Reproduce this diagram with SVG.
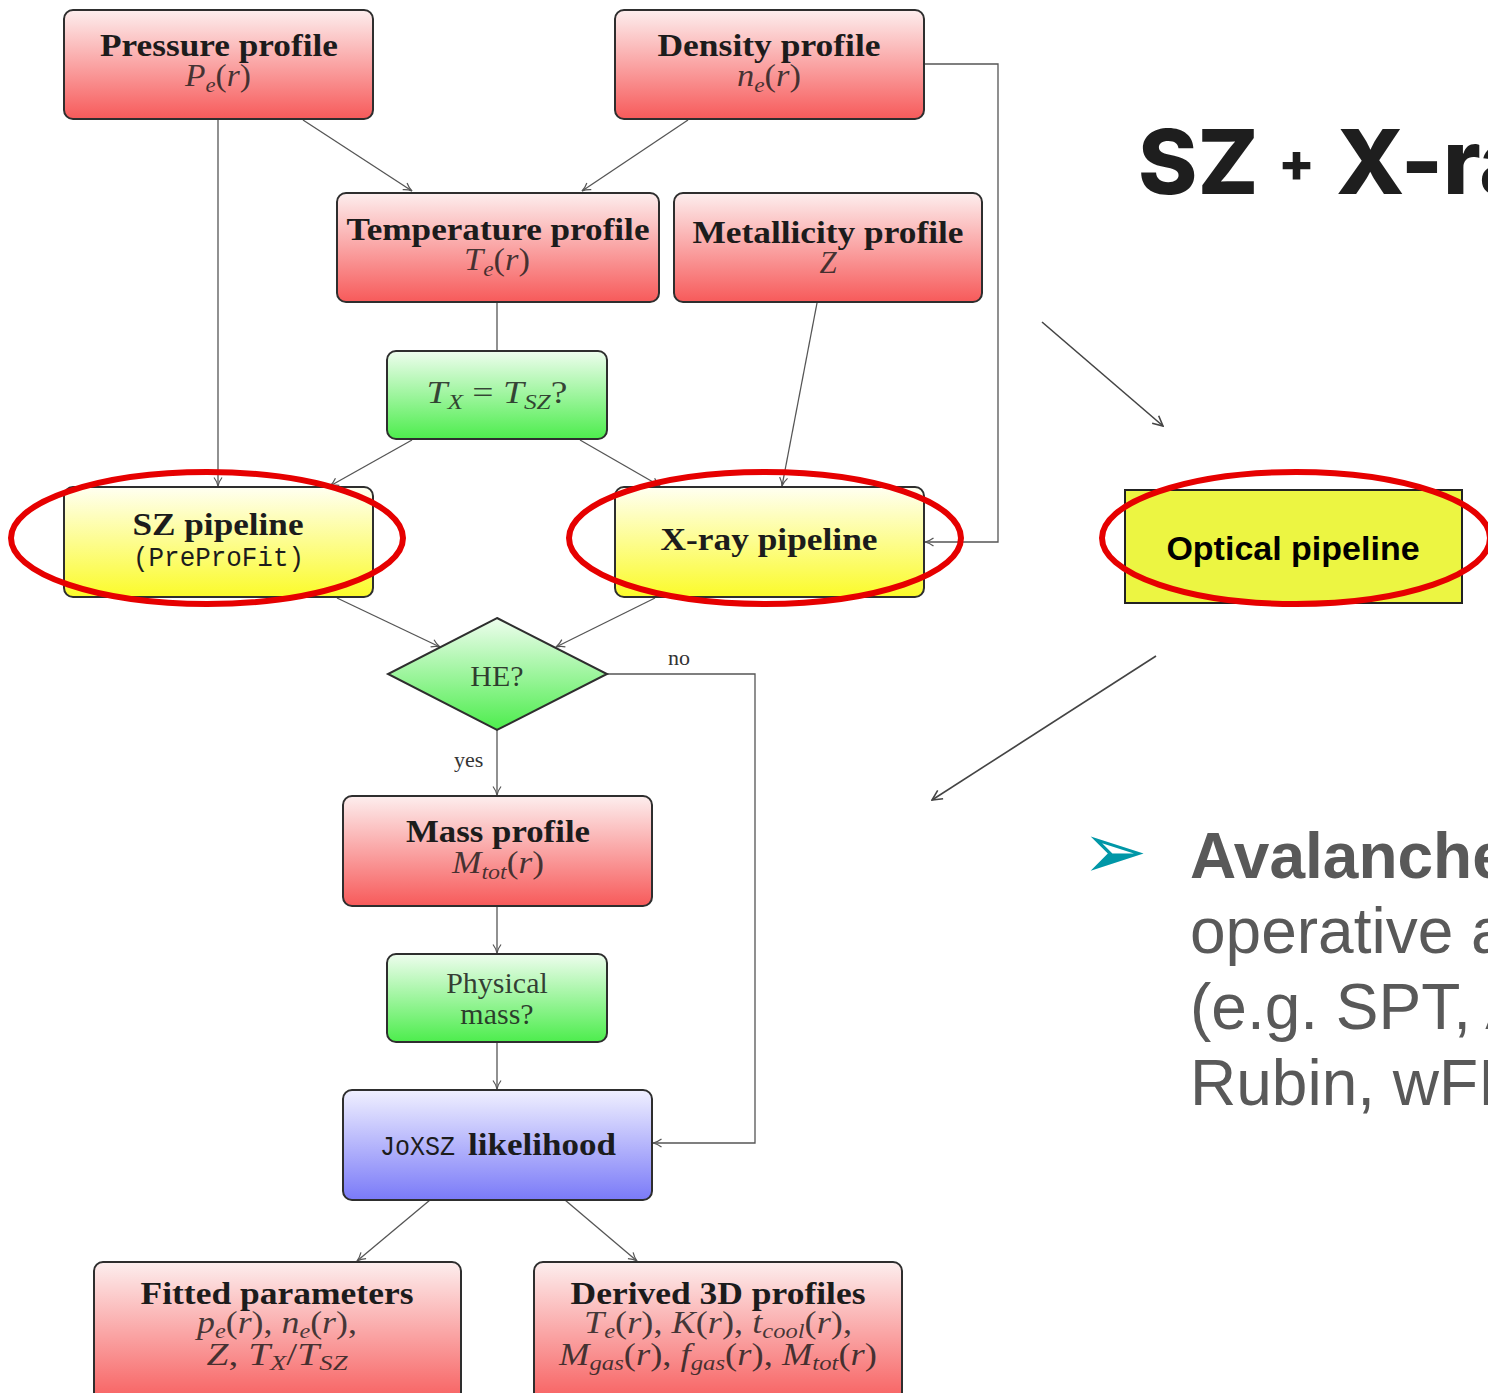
<svg xmlns="http://www.w3.org/2000/svg" width="1488" height="1393" viewBox="0 0 1488 1393">
  <defs>
    <linearGradient id="gRed" x1="0" y1="0" x2="0" y2="1">
      <stop offset="0" stop-color="#fdeeee"/>
      <stop offset="1" stop-color="#f75a5a"/>
    </linearGradient>
    <linearGradient id="gGreen" x1="0" y1="0" x2="0" y2="1">
      <stop offset="0" stop-color="#eefdee"/>
      <stop offset="1" stop-color="#4ded4d"/>
    </linearGradient>
    <linearGradient id="gYellow" x1="0" y1="0" x2="0" y2="1">
      <stop offset="0" stop-color="#fffff2"/>
      <stop offset="1" stop-color="#fbfb2a"/>
    </linearGradient>
    <linearGradient id="gBlue" x1="0" y1="0" x2="0" y2="1">
      <stop offset="0" stop-color="#f0f0ff"/>
      <stop offset="1" stop-color="#7a7af8"/>
    </linearGradient>
    <marker id="arr" viewBox="0 0 10 10" refX="9.5" refY="5" markerWidth="10" markerHeight="10" orient="auto" markerUnits="userSpaceOnUse">
      <path d="M1,1 Q5,4 9.5,5 Q5,6 1,9" fill="none" stroke="#555" stroke-width="1.2"/>
    </marker>
    <marker id="arrBig" viewBox="0 0 12 12" refX="11" refY="6" markerWidth="12" markerHeight="12" orient="auto" markerUnits="userSpaceOnUse">
      <path d="M1,1 L11,6 L1,11" fill="none" stroke="#444" stroke-width="1.6"/>
    </marker>
    <style>
      .box { stroke: #2e2e2e; stroke-width: 2; }
      .red { fill: url(#gRed); }
      .green { fill: url(#gGreen); }
      .yellow { fill: url(#gYellow); }
      .blue { fill: url(#gBlue); }
      .con { fill: none; stroke: #555; stroke-width: 1.3; }
      .big { fill: none; stroke: #444; stroke-width: 1.6; }
      .ring { fill: none; stroke: #e60000; stroke-width: 6; }
      .t { font-family: "Liberation Serif", serif; font-weight: bold; font-size: 31px; fill: #1c1c1c; text-anchor: middle; }
      .r { font-family: "Liberation Serif", serif; font-size: 30px; fill: #1c1c1c; fill-opacity: 0.85; text-anchor: middle; }
      .m { font-family: "Liberation Serif", serif; font-style: italic; font-size: 31px; fill: #1c1c1c; fill-opacity: 0.82; text-anchor: middle; }
      .u { font-style: normal; }
      .s { font-size: 21px; }
      .tt { font-family: "Liberation Mono", monospace; font-size: 27px; fill: #1c1c1c; }
      .lbl { font-family: "Liberation Serif", serif; font-size: 22px; fill: #333; }
      .slide { font-family: "Liberation Sans", Arial, sans-serif; fill: #595959; font-size: 64px; }
    </style>
  </defs>

  <rect x="0" y="0" width="1488" height="1393" fill="#ffffff"/>

  <!-- connectors -->
  <g id="connectors">
    <path class="con" d="M218,119 V486" marker-end="url(#arr)"/>
    <path class="con" d="M303,120 L412,191" marker-end="url(#arr)"/>
    <path class="con" d="M688,120 L582,191" marker-end="url(#arr)"/>
    <path class="con" d="M924,64 H998 V542 H925" marker-end="url(#arr)"/>
    <path class="con" d="M497,302 V351"/>
    <path class="con" d="M817,303 L782,486" marker-end="url(#arr)"/>
    <path class="con" d="M412,440 L330,486" marker-end="url(#arr)"/>
    <path class="con" d="M580,440 L660,486" marker-end="url(#arr)"/>
    <path class="con" d="M337,598 L440,647" marker-end="url(#arr)"/>
    <path class="con" d="M655,598 L556,647" marker-end="url(#arr)"/>
    <path class="con" d="M607,674 H755 V1143 H653" marker-end="url(#arr)"/>
    <path class="con" d="M497,730 V795" marker-end="url(#arr)"/>
    <path class="con" d="M497,906 V953" marker-end="url(#arr)"/>
    <path class="con" d="M497,1042 V1089" marker-end="url(#arr)"/>
    <path class="con" d="M430,1200 L357,1261" marker-end="url(#arr)"/>
    <path class="con" d="M565,1200 L637,1261" marker-end="url(#arr)"/>
    <path class="big" d="M1042,322 L1163,426" marker-end="url(#arrBig)"/>
    <path class="big" d="M1156,656 L932,800" marker-end="url(#arrBig)"/>
    <text class="lbl" x="668" y="665">no</text>
    <text class="lbl" x="454" y="767">yes</text>
  </g>

  <!-- pressure profile -->
  <g id="pressure">
    <rect class="box red" x="64" y="10" width="309" height="109" rx="9"/>
    <text class="t" x="219" y="56" textLength="238" lengthAdjust="spacingAndGlyphs">Pressure profile</text>
    <text class="m" x="218" y="86" textLength="66" lengthAdjust="spacingAndGlyphs">P<tspan class="s" dy="6">e</tspan><tspan class="u" dy="-6">(</tspan>r<tspan class="u">)</tspan></text>
  </g>

  <!-- density profile -->
  <g id="density">
    <rect class="box red" x="615" y="10" width="309" height="109" rx="9"/>
    <text class="t" x="769" y="56" textLength="223" lengthAdjust="spacingAndGlyphs">Density profile</text>
    <text class="m" x="769" y="86" textLength="64" lengthAdjust="spacingAndGlyphs">n<tspan class="s" dy="6">e</tspan><tspan class="u" dy="-6">(</tspan>r<tspan class="u">)</tspan></text>
  </g>

  <!-- temperature profile -->
  <g id="temperature">
    <rect class="box red" x="337" y="193" width="322" height="109" rx="9"/>
    <text class="t" x="498" y="240" textLength="303" lengthAdjust="spacingAndGlyphs">Temperature profile</text>
    <text class="m" x="497" y="270" textLength="66" lengthAdjust="spacingAndGlyphs">T<tspan class="s" dy="6">e</tspan><tspan class="u" dy="-6">(</tspan>r<tspan class="u">)</tspan></text>
  </g>

  <!-- metallicity profile -->
  <g id="metallicity">
    <rect class="box red" x="674" y="193" width="308" height="109" rx="9"/>
    <text class="t" x="828" y="243" textLength="271" lengthAdjust="spacingAndGlyphs">Metallicity profile</text>
    <text class="m" x="828" y="273">Z</text>
  </g>

  <!-- temperature consistency check -->
  <g id="tcheck">
    <rect class="box green" x="387" y="351" width="220" height="88" rx="9"/>
    <text class="m" x="497" y="403" textLength="141" lengthAdjust="spacingAndGlyphs">T<tspan class="s" dy="6">X</tspan><tspan class="u" dy="-6"> = </tspan>T<tspan class="s" dy="6">SZ</tspan><tspan class="u" dy="-6">?</tspan></text>
  </g>

  <!-- SZ pipeline -->
  <g id="szpipe">
    <rect class="box yellow" x="64" y="487" width="309" height="110" rx="9"/>
    <text class="t" x="218" y="535" textLength="171" lengthAdjust="spacingAndGlyphs">SZ pipeline</text>
    <text class="tt" x="133" y="566" textLength="171" lengthAdjust="spacingAndGlyphs">(PreProFit)</text>
  </g>

  <!-- X-ray pipeline -->
  <g id="xraypipe">
    <rect class="box yellow" x="615" y="487" width="309" height="110" rx="9"/>
    <text class="t" x="769" y="550" textLength="217" lengthAdjust="spacingAndGlyphs">X-ray pipeline</text>
  </g>

  <!-- hydrostatic equilibrium decision -->
  <g id="he">
    <polygon class="box green" points="497,618 607,674 497,730 388,674"/>
    <text class="r" x="497" y="686">HE?</text>
  </g>

  <!-- mass profile -->
  <g id="mass">
    <rect class="box red" x="343" y="796" width="309" height="110" rx="9"/>
    <text class="t" x="498" y="842" textLength="184" lengthAdjust="spacingAndGlyphs">Mass profile</text>
    <text class="m" x="498" y="873" textLength="92" lengthAdjust="spacingAndGlyphs">M<tspan class="s" dy="6">tot</tspan><tspan class="u" dy="-6">(</tspan>r<tspan class="u">)</tspan></text>
  </g>

  <!-- physical mass check -->
  <g id="physmass">
    <rect class="box green" x="387" y="954" width="220" height="88" rx="9"/>
    <text class="r" x="497" y="993">Physical</text>
    <text class="r" x="497" y="1024">mass?</text>
  </g>

  <!-- joint likelihood -->
  <g id="likelihood">
    <rect class="box blue" x="343" y="1090" width="309" height="110" rx="9"/>
    <text class="tt" x="380" y="1155" textLength="75" lengthAdjust="spacingAndGlyphs">JoXSZ</text>
    <text class="t" x="542" y="1155" textLength="148" lengthAdjust="spacingAndGlyphs">likelihood</text>
  </g>

  <!-- fitted parameters -->
  <g id="fitted">
    <rect class="box red" x="94" y="1262" width="367" height="145" rx="9"/>
    <text class="t" x="277" y="1304" textLength="273" lengthAdjust="spacingAndGlyphs">Fitted parameters</text>
    <text class="m" x="277" y="1333" textLength="160" lengthAdjust="spacingAndGlyphs">p<tspan class="s" dy="5">e</tspan><tspan class="u" dy="-5">(</tspan>r<tspan class="u">), </tspan>n<tspan class="s" dy="5">e</tspan><tspan class="u" dy="-5">(</tspan>r<tspan class="u">),</tspan></text>
    <text class="m" x="277" y="1365" textLength="141" lengthAdjust="spacingAndGlyphs">Z<tspan class="u">, </tspan>T<tspan class="s" dy="5">X</tspan><tspan class="u" dy="-5">/</tspan>T<tspan class="s" dy="5">SZ</tspan></text>
  </g>

  <!-- derived 3D profiles -->
  <g id="derived">
    <rect class="box red" x="534" y="1262" width="368" height="145" rx="9"/>
    <text class="t" x="718" y="1304" textLength="295" lengthAdjust="spacingAndGlyphs">Derived 3D profiles</text>
    <text class="m" x="718" y="1333" textLength="268" lengthAdjust="spacingAndGlyphs">T<tspan class="s" dy="5">e</tspan><tspan class="u" dy="-5">(</tspan>r<tspan class="u">), </tspan>K<tspan class="u">(</tspan>r<tspan class="u">), </tspan>t<tspan class="s" dy="5">cool</tspan><tspan class="u" dy="-5">(</tspan>r<tspan class="u">),</tspan></text>
    <text class="m" x="718" y="1365" textLength="318" lengthAdjust="spacingAndGlyphs">M<tspan class="s" dy="5">gas</tspan><tspan class="u" dy="-5">(</tspan>r<tspan class="u">), </tspan>f<tspan class="s" dy="5">gas</tspan><tspan class="u" dy="-5">(</tspan>r<tspan class="u">), </tspan>M<tspan class="s" dy="5">tot</tspan><tspan class="u" dy="-5">(</tspan>r<tspan class="u">)</tspan></text>
  </g>

  <!-- optical pipeline -->
  <g id="optical">
    <rect x="1125" y="490" width="337" height="113" fill="#ecf542" stroke="#222" stroke-width="2"/>
    <text x="1293" y="560" font-family="Liberation Sans, Arial, sans-serif" font-weight="bold" font-size="34" fill="#000" text-anchor="middle">Optical pipeline</text>
  </g>

  <!-- highlight rings -->
  <g id="rings">
    <ellipse class="ring" cx="207" cy="538" rx="196" ry="66"/>
    <ellipse class="ring" cx="765" cy="538" rx="196" ry="66"/>
    <ellipse class="ring" cx="1296" cy="538" rx="194" ry="66"/>
  </g>

  <!-- heading -->
  <g id="heading">
    <text font-family="Inter, 'Liberation Sans', sans-serif" font-weight="800" fill="#1e1e1e">
      <tspan x="1138" y="194" font-size="90">SZ</tspan>
      <tspan x="1278" y="182" font-size="54">+</tspan>
      <tspan x="1336" y="194" font-size="90">X-ra</tspan>
    </text>
  </g>

  <!-- bullet text -->
  <g id="bullet">
    <text x="1082" y="878" font-family="DejaVu Sans, sans-serif" font-size="78" fill="#0097a7">➢</text>
    <text class="slide" x="1190" y="878" font-weight="bold">Avalanche</text>
    <text class="slide" x="1190" y="953">operative a</text>
    <text class="slide" x="1190" y="1029">(e.g. SPT, A</text>
    <text class="slide" x="1190" y="1105">Rubin, wFI</text>
  </g>
</svg>
